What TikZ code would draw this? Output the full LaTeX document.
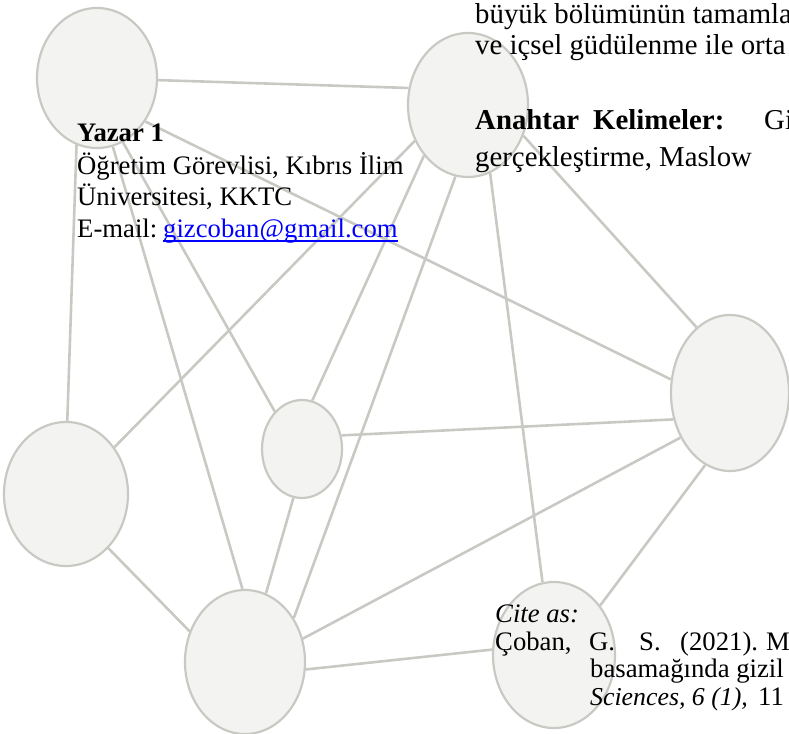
\documentclass[tikz,border=0pt]{standalone}
\usepackage{fontspec}
\setmainfont{Liberation Serif}
\usetikzlibrary{shapes.geometric,backgrounds}
\definecolor{nodefill}{RGB}{243,243,241}
\definecolor{edgegray}{RGB}{201,201,196}
\definecolor{linkblue}{RGB}{0,0,255}
\begin{document}
\begin{tikzpicture}[x=1pt,y=-1pt,
  bub/.style={ellipse, draw=edgegray, fill=nodefill, line width=2.2pt, inner sep=0pt},
  link/.style={draw=edgegray, line width=2.6pt},
  txt/.style={anchor=base west, inner sep=0pt, font=\fontsize{26.7}{31}\selectfont},
  bigtxt/.style={anchor=base west, inner sep=0pt, font=\fontsize{28.8}{31}\selectfont}]
\useasboundingbox (0,0) rectangle (789,733);
\clip (0,0) rectangle (789,733);
% circles
\node[bub, minimum width=120pt, minimum height=140pt] (a) at (97,78) {};
\node[bub, minimum width=120pt, minimum height=144pt] (b) at (468,105) {};
\node[bub, minimum width=118pt, minimum height=156pt] (c) at (730,393) {};
\node[bub, minimum width=124pt, minimum height=144pt] (d) at (66,494) {};
\node[bub, minimum width=80pt, minimum height=98pt] (e) at (302,449) {};
\node[bub, minimum width=120pt, minimum height=144pt] (f) at (245,662) {};
\node[bub, minimum width=122pt, minimum height=146pt] (g) at (554,655) {};
% connectors
\begin{scope}[on background layer]
\draw[link] (a.-2) -- (b.164);
\draw[link] (a.-107) -- (d.89);
\draw[link] (a.-77) -- (f.92);
\draw[link] (a.-68) -- (e.126);
\draw[link] (a.-42) -- (c.167);
\draw[link] (b.-146) -- (d.44);
\draw[link] (b.-131) -- (e.78);
\draw[link] (b.-100) -- (f.42);
\draw[link] (b.-72) -- (g.99);
\draw[link] (b.-29) -- (c.117);
\draw[link] (c.-155) -- (e.19);
\draw[link] (c.-138) -- (f.22);
\draw[link] (c.-109) -- (g.47);
\draw[link] (d.-52) -- (f.151);
\draw[link] (e.-100) -- (f.73);
\draw[link] (f.-7) -- (g.175);
\end{scope}
% author block
\node[txt] (y1) at (77,142) {\bfseries Yazar 1};
\node[txt] (y2) at (77,174) {Öğretim Görevlisi, Kıbrıs İlim};
\node[txt] (y3) at (77,205.5) {Üniversitesi, KKTC};
\node[txt] (y4) at (77,237) {E-mail:};
\node[txt, text=linkblue] (em) at (163,237) {gizcoban@gmail.com};
\draw[linkblue, line width=1.6pt] ([yshift=-4pt]em.base west) -- ([yshift=-4pt]em.base east);
% abstract fragment
\node[bigtxt] (r1) at (475,24) {büyük bölümünün tamamla};
\node[bigtxt] (r2) at (475,55) {ve içsel güdülenme ile orta};
\node[bigtxt] (r3a) at (475,129.5) {\bfseries Anahtar};
\node[bigtxt] (r3b) at (593,129.5) {\bfseries Kelimeler:};
\node[bigtxt] (r3c) at (764,129.5) {Gi};
\node[bigtxt] (r4) at (475,166) {gerçekleştirme, Maslow};
% citation
\node[txt] (c1) at (495,622) {\itshape Cite as:};
\node[txt] (c2a) at (495,650) {Çoban,};
\node[txt] (c2b) at (589,650) {G.};
\node[txt] (c2c) at (639,650) {S.};
\node[txt] (c2d) at (680,650) {(2021).};
\node[txt] (c2e) at (766,650) {M};
\node[txt] (c3) at (590,677) {basamağında gizil};
\node[txt, font=\fontsize{25.8}{31}\selectfont] (c4a) at (590,705) {\itshape Sciences, 6 (1),};
\node[txt] (c4b) at (758,705) {11};
\end{tikzpicture}
\end{document}
